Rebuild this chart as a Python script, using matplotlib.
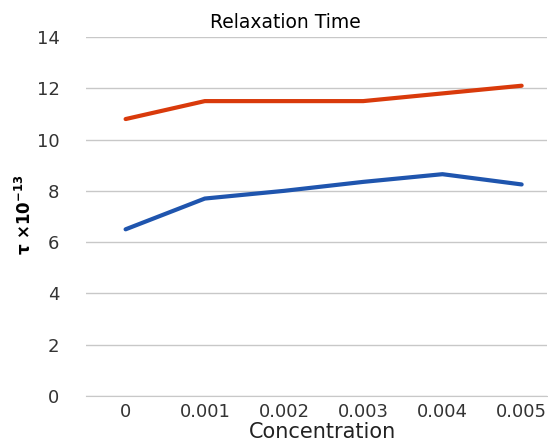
import matplotlib
matplotlib.use("Agg")
import matplotlib.pyplot as plt

categories = ["0", "0.001", "0.002", "0.003", "0.004", "0.005"]
series_red = [10.8, 11.5, 11.5, 11.5, 11.8, 12.1]
series_blue = [6.5, 7.7, 8.0, 8.35, 8.65, 8.25]
yticks = [0, 2, 4, 6, 8, 10, 12, 14]

W, H = 548, 441
fig = plt.figure(figsize=(W / 100, H / 100), dpi=100)
ax = fig.add_axes([86 / W, (H - 396) / H, (547 - 86) / W, (396 - 37) / H])

x = list(range(len(categories)))
ax.plot(x, series_red, color="#D93A0B", lw=3.0, solid_capstyle="round", zorder=3)
ax.plot(x, series_blue, color="#1F55AE", lw=3.0, solid_capstyle="round", zorder=3)

ax.set_xlim(-0.5, 5.32)
ax.set_ylim(0, 14)
ax.set_yticks(yticks)
ax.set_xticks(x)
ax.set_xticklabels(categories)
ax.grid(axis="y", color="#c8c8c8", lw=1.0)
ax.set_axisbelow(True)
for s in ["top", "right", "left"]:
    ax.spines[s].set_visible(False)
ax.spines["bottom"].set_color("#c8c8c8")
ax.tick_params(length=0, labelsize=13, colors="#333333")
ax.tick_params(axis="y", pad=19)
ax.tick_params(axis="x", pad=5)

fig.text(322 / W, 1 - 432 / H, "Concentration", fontsize=15, color="#222222",
         ha="center", va="center")
fig.text(25 / W, 1 - 215 / H, r"$\mathbf{\tau}$ $\mathbf{\times10^{-13}}$", rotation=90,
         fontsize=12, fontweight="bold", ha="center", va="center")
fig.text(285 / W, 1 - 22 / H, "Relaxation Time", fontsize=13.5, color="black",
         ha="center", va="center")

fig.savefig("out.png", dpi=100, facecolor="white")
